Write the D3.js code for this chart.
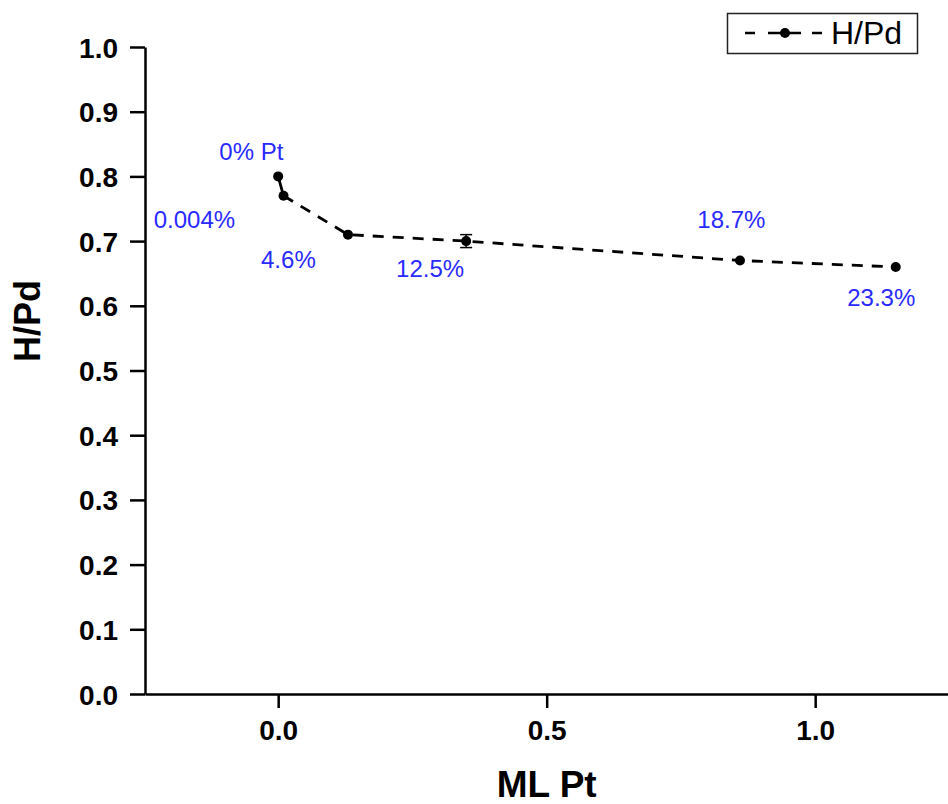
<!DOCTYPE html>
<html>
<head>
<meta charset="utf-8">
<script src="https://cdn.jsdelivr.net/npm/d3@7"></script>
<style>
  body { margin: 0; background: #fff; }
  svg { display: block; font-family: "Liberation Sans", Arial, sans-serif; }
</style>
</head>
<body>
<div id="chart"></div>
<script>
// H/Pd vs ML Pt
const mlPt = [0, 0.01, 0.13, 0.35, 0.86, 1.15];
const hPd = [0.80, 0.77, 0.71, 0.70, 0.67, 0.66];
const hPdErr = [0, 0, 0, 0.01, 0, 0];
const xTicks = [0.0, 0.5, 1.0];
const yTicks = [0.0, 0.1, 0.2, 0.3, 0.4, 0.5, 0.6, 0.7, 0.8, 0.9, 1.0];

// annotation labels (text + data position they sit at)
const ptLabels = ['0% Pt', '0.004%', '4.6%', '12.5%', '18.7%', '23.3%'];
const ptLabelX = [-0.05, -0.156, 0.019, 0.283, 0.844, 1.123];
const ptLabelY = [0.838, 0.733, 0.672, 0.658, 0.733, 0.612];

const width = 948, height = 804;
const margin = {top: 47, right: 0, bottom: 110, left: 145};

const svg = d3.select('#chart').append('svg')
    .attr('width', width)
    .attr('height', height);

const x = d3.scaleLinear()
    .domain([-0.248, 1.25])
    .range([margin.left, margin.left + 1.498 * 537]);

const y = d3.scaleLinear()
    .domain([0, 1])
    .range([height - margin.bottom, margin.top]);

// axes
const xAxis = d3.axisBottom(x)
    .tickValues(xTicks)
    .tickFormat(d3.format('.1f'))
    .tickSize(14)
    .tickSizeOuter(0)
    .tickPadding(10);

const yAxis = d3.axisLeft(y)
    .tickValues(yTicks)
    .tickFormat(d3.format('.1f'))
    .tickSize(15)
    .tickSizeOuter(0)
    .tickPadding(12);

const gx = svg.append('g')
    .attr('transform', `translate(0,${y(0)})`)
    .call(xAxis);

const gy = svg.append('g')
    .attr('transform', `translate(${margin.left},0)`)
    .call(yAxis);

svg.selectAll('.domain, .tick line')
    .attr('stroke', '#000')
    .attr('stroke-width', 2.5);

svg.selectAll('.tick text')
    .style('font-family', '"Liberation Sans", Arial, sans-serif')
    .style('font-weight', 'bold')
    .style('font-size', '28px')
    .attr('fill', '#000');

gx.selectAll('.tick text').attr('dy', '0.78em');
gy.selectAll('.tick text').attr('dy', '0.36em');

// axis titles
svg.append('text')
    .attr('text-anchor', 'middle')
    .attr('x', x(0.5))
    .attr('y', 797)
    .style('font-weight', 'bold')
    .style('font-size', '37px')
    .text('ML Pt');

svg.append('text')
    .attr('text-anchor', 'middle')
    .attr('transform', 'translate(40,321) rotate(-90)')
    .style('font-weight', 'bold')
    .style('font-size', '36px')
    .text('H/Pd');

// data series
const data = mlPt.map((v, i) => ({x: v, y: hPd[i], err: hPdErr[i]}));

// first segment solid, rest dashed
svg.append('path')
    .datum(data.slice(0, 2))
    .attr('fill', 'none')
    .attr('stroke', '#000')
    .attr('stroke-width', 2.8)
    .attr('d', d3.line().x(d => x(d.x)).y(d => y(d.y)));

svg.append('path')
    .datum(data.slice(1))
    .attr('fill', 'none')
    .attr('stroke', '#000')
    .attr('stroke-width', 2.8)
    .attr('stroke-dasharray', '11,9')
    .attr('d', d3.line().x(d => x(d.x)).y(d => y(d.y)));

// error bars
const errData = data.filter(d => d.err > 0);
errData.forEach(d => {
    const g = svg.append('g').attr('stroke', '#000').attr('stroke-width', 1.5);
    g.append('line')
        .attr('x1', x(d.x)).attr('x2', x(d.x))
        .attr('y1', y(d.y + d.err)).attr('y2', y(d.y - d.err));
    g.append('line')
        .attr('x1', x(d.x) - 6).attr('x2', x(d.x) + 6)
        .attr('y1', y(d.y + d.err)).attr('y2', y(d.y + d.err));
    g.append('line')
        .attr('x1', x(d.x) - 6).attr('x2', x(d.x) + 6)
        .attr('y1', y(d.y - d.err)).attr('y2', y(d.y - d.err));
});

svg.selectAll('.pt')
    .data(data)
    .enter()
    .append('circle')
    .attr('class', 'pt')
    .attr('cx', d => x(d.x))
    .attr('cy', d => y(d.y))
    .attr('r', 5)
    .attr('fill', '#000');

// annotations
svg.selectAll('.pt-label')
    .data(ptLabels)
    .enter()
    .append('text')
    .attr('class', 'pt-label')
    .attr('text-anchor', 'middle')
    .attr('x', (d, i) => x(ptLabelX[i]))
    .attr('y', (d, i) => y(ptLabelY[i]))
    .attr('dy', '0.35em')
    .style('font-size', '24px')
    .attr('fill', '#2a2aff')
    .text(d => d);

// legend
const legend = svg.append('g');
legend.append('rect')
    .attr('x', 727.5).attr('y', 13.5)
    .attr('width', 190).attr('height', 40)
    .attr('fill', '#fff')
    .attr('stroke', '#222')
    .attr('stroke-width', 1.5);
legend.append('line')
    .attr('x1', 745).attr('x2', 822)
    .attr('y1', 33).attr('y2', 33)
    .attr('stroke', '#000')
    .attr('stroke-width', 2.5)
    .attr('stroke-dasharray', '10,13,33,11,10');
legend.append('circle')
    .attr('cx', 785).attr('cy', 33).attr('r', 5).attr('fill', '#000');
legend.append('text')
    .attr('x', 831).attr('y', 33)
    .attr('dy', '0.35em')
    .style('font-size', '32px')
    .text('H/Pd');
</script>
</body>
</html>
